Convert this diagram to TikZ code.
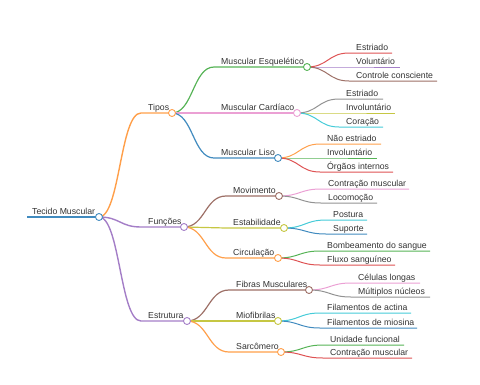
\documentclass[tikz,border=0pt]{standalone}
\usepackage{fontspec}
\setmainfont{Liberation Sans}
\definecolor{kblue}{HTML}{1F77B4}
\definecolor{korange}{HTML}{FF7F0E}
\definecolor{kgreen}{HTML}{2CA02C}
\definecolor{kred}{HTML}{D62728}
\definecolor{kpurple}{HTML}{9467BD}
\definecolor{kbrown}{HTML}{8C564B}
\definecolor{kpink}{HTML}{E377C2}
\definecolor{kgray}{HTML}{7F7F7F}
\definecolor{kolive}{HTML}{BCBD22}
\definecolor{kcyan}{HTML}{17BECF}
\definecolor{txt}{HTML}{333333}
\colorlet{cblue}{kblue!85!white}
\colorlet{corange}{korange!75!white}
\colorlet{cgreen}{kgreen!80!white}
\colorlet{cred}{kred!80!white}
\colorlet{cpurple}{kpurple!85!white}
\colorlet{cbrown}{kbrown!85!white}
\colorlet{cpink}{kpink!70!white}
\colorlet{cgray}{kgray!85!white}
\colorlet{colive}{kolive!85!white}
\colorlet{ccyan}{kcyan!80!white}
\newcommand\mmbranch[8]{%
  \coordinate (#1) at (#5,#6);
  \coordinate (#1-s) at (#4,#6);
  \node[lbl] (#1-t) at (#4+7,#6-3) {#7};
  \draw[#8,#3] (#2) .. controls +(21,0) and +(-21,0) .. (#1-s) -- (#1);}
\newcommand\mmleaf[7]{%
  \coordinate (#1-s) at (#4,#5);
  \coordinate (#1-e) at (#6,#5);
  \node[lbl] (#1) at (#4+7,#5-3) {#7};
  \draw[leafline,#3] (#2) .. controls +(21,0) and +(-21,0) .. (#1-s) -- (#1-e);}
\begin{document}
\begin{tikzpicture}[x=1pt,y=-1pt,
  lbl/.style={font=\fontsize{8.7}{10}\selectfont, text=txt, inner sep=0pt, anchor=base west},
  dot/.style={circle, fill=white, minimum size=7pt, inner sep=0pt, line width=0.9pt},
  lone/.style={line width=1.4pt},
  ltwo/.style={line width=1.2pt},
  leafline/.style={line width=1pt}]
\useasboundingbox (0,0) rectangle (480,384);
% root
\coordinate (root) at (99,217);
\coordinate (root-s) at (27,217);
\node[lbl] (root-t) at (32,214) {Tecido Muscular};
\draw[lone,cblue] (root-s) -- (root);
% level 1
\mmbranch{tipos}{root}{corange}{141}{172}{113}{Tipos}{lone}
\mmbranch{func}{root}{cpurple}{141}{184}{227}{Funções}{lone}
\mmbranch{estr}{root}{cpurple}{141}{187}{321}{Estrutura}{lone}
% level 2
\mmbranch{esq}{tipos}{cgreen}{214}{307}{67}{Muscular Esquelético}{ltwo}
\mmbranch{card}{tipos}{cpink}{214}{297}{113}{Muscular Cardíaco}{ltwo}
\mmbranch{liso}{tipos}{cblue}{214}{278}{158}{Muscular Liso}{ltwo}
\mmbranch{mov}{func}{cbrown}{226}{279}{196}{Movimento}{ltwo}
\mmbranch{estab}{func}{colive}{226}{284}{228}{Estabilidade}{ltwo}
\mmbranch{circ}{func}{corange}{226}{278}{258}{Circulação}{ltwo}
\mmbranch{fib}{estr}{cbrown}{229}{309}{290}{Fibras Musculares}{ltwo}
\mmbranch{miof}{estr}{colive}{229}{278}{321}{Miofibrilas}{ltwo}
\mmbranch{sarc}{estr}{corange}{229}{281}{352}{Sarcômero}{ltwo}
% leaves
\mmleaf{esq1}{esq}{cred}{349}{53}{392}{Estriado}
\mmleaf{esq2}{esq}{cpurple}{349}{67}{400}{Voluntário}
\mmleaf{esq3}{esq}{cbrown}{349}{81}{437}{Controle consciente}
\mmleaf{card1}{card}{cgray}{339}{99}{383}{Estriado}
\mmleaf{card2}{card}{colive}{339}{113}{395}{Involuntário}
\mmleaf{card3}{card}{ccyan}{339}{127}{383}{Coração}
\mmleaf{liso1}{liso}{corange}{320}{144}{381}{Não estriado}
\mmleaf{liso2}{liso}{cgreen}{320}{158}{377}{Involuntário}
\mmleaf{liso3}{liso}{cred}{320}{172}{393}{Órgãos internos}
\mmleaf{mov1}{mov}{cpink}{321}{189}{409}{Contração muscular}
\mmleaf{mov2}{mov}{cgray}{321}{203}{377}{Locomoção}
\mmleaf{estab1}{estab}{ccyan}{326}{220}{367}{Postura}
\mmleaf{estab2}{estab}{cblue}{326}{234}{367}{Suporte}
\mmleaf{circ1}{circ}{cgreen}{320}{251}{430}{Bombeamento do sangue}
\mmleaf{circ2}{circ}{cred}{320}{265}{395}{Fluxo sanguíneo}
\mmleaf{fib1}{fib}{cpink}{351}{283}{420}{Células longas}
\mmleaf{fib2}{fib}{cgray}{351}{297}{430}{Múltiplos núcleos}
\mmleaf{miof1}{miof}{ccyan}{320}{313}{411}{Filamentos de actina}
\mmleaf{miof2}{miof}{cblue}{320}{328}{417}{Filamentos de miosina}
\mmleaf{sarc1}{sarc}{cgreen}{323}{345}{404}{Unidade funcional}
\mmleaf{sarc2}{sarc}{cred}{323}{358}{412}{Contração muscular}
% dots
\node[dot,draw=cblue] (root-d) at (root) {};
\node[dot,draw=corange] (tipos-d) at (tipos) {};
\node[dot,draw=cpurple] (func-d) at (func) {};
\node[dot,draw=cpurple] (estr-d) at (estr) {};
\node[dot,draw=cgreen] (esq-d) at (esq) {};
\node[dot,draw=cpink] (card-d) at (card) {};
\node[dot,draw=cblue] (liso-d) at (liso) {};
\node[dot,draw=cbrown] (mov-d) at (mov) {};
\node[dot,draw=colive] (estab-d) at (estab) {};
\node[dot,draw=corange] (circ-d) at (circ) {};
\node[dot,draw=cbrown] (fib-d) at (fib) {};
\node[dot,draw=colive] (miof-d) at (miof) {};
\node[dot,draw=corange] (sarc-d) at (sarc) {};
\end{tikzpicture}
\end{document}
